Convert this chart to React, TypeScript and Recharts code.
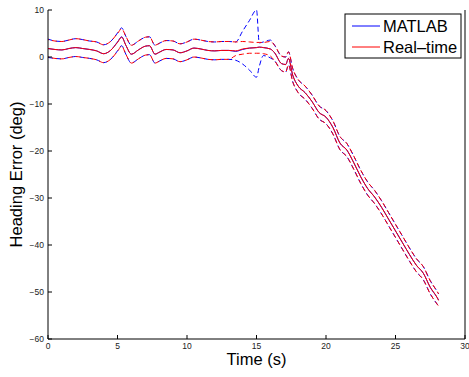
import React from 'react';
import { LineChart, Line, XAxis, YAxis } from 'recharts';

if (typeof document !== 'undefined') document.body.style.margin = '0';

const FONT = '"Liberation Sans", Arial, Helvetica, sans-serif';

const times = [
  0, 0.5, 1, 1.5, 2, 2.5, 3, 3.5, 4, 4.5,
  5, 5.3, 5.6, 6, 6.5, 7, 7.3, 7.7, 8, 8.5,
  9, 9.5, 10, 10.5, 11, 11.5, 12, 12.5, 13, 13.5,
  14, 14.5, 15, 15.2, 15.5, 16, 16.3, 16.8, 17.1, 17.3,
  17.6, 18, 18.5, 19, 19.5, 20, 20.5, 21, 21.5, 22,
  22.5, 23, 23.5, 24, 24.5, 25, 25.5, 26, 26.5, 27,
  27.5, 28, 28.1,
];

const matlabMean = [
  1.8, 1.6, 1.5, 1.8, 2.0, 1.8, 1.6, 1.3, 0.7, 1.4,
  3.2, 4.3, 2.5, 0.6, 1.5, 2.3, 2.4, 0.6, 1.0, 1.6,
  1.5, 0.9, 1.3, 1.9, 1.7, 1.4, 1.3, 1.4, 1.4, 1.2,
  1.6, 1.9, 2.0, 2.1, 2.0, 1.7, 0.9, -1.4, -1.6, -0.3,
  -3.8, -6.2, -7.6, -9.5, -11.8, -12.8, -15.0, -18.3, -19.8, -22.5,
  -25.5, -28.0, -29.8, -32.0, -34.5, -37.0, -39.5, -42.0, -44.3, -46.0,
  -49.0, -51.2, -51.7,
];

const matlabUpper = [
  3.8, 3.4, 3.3, 3.6, 3.9, 3.7, 3.4, 3.2, 2.6, 3.3,
  5.1, 6.2, 4.4, 2.5, 3.4, 4.2, 4.3, 2.5, 2.9, 3.5,
  3.4, 2.8, 3.2, 3.8, 3.6, 3.3, 3.2, 3.3, 3.3, 3.2,
  5.5, 7.8, 10.0, 3.0, 3.2, 3.6, 2.5, 0.2, 0.0, 1.1,
  -2.4, -4.8, -6.2, -8.1, -10.4, -11.4, -13.6, -16.9, -18.4, -21.1,
  -24.1, -26.6, -28.4, -30.6, -33.1, -35.6, -38.1, -40.6, -42.9, -44.6,
  -47.6, -49.9, -50.4,
];

const matlabLower = [
  -0.1, -0.3, -0.4, -0.1, 0.1, -0.1, -0.3, -0.6, -1.2, -0.5,
  1.3, 2.4, 0.6, -1.3, -0.4, 0.4, 0.5, -1.3, -0.9, -0.3,
  -0.4, -1.0, -0.6, 0.0, -0.2, -0.5, -0.6, -0.5, -0.5, -0.7,
  -1.5, -2.8, -4.3, -2.0, 0.3, -0.2, -0.8, -2.9, -3.2, -1.7,
  -5.2, -7.6, -9.0, -10.9, -13.2, -14.2, -16.4, -19.7, -21.2, -23.9,
  -26.9, -29.4, -31.2, -33.4, -35.9, -38.4, -40.9, -43.4, -45.7, -47.4,
  -50.4, -52.6, -53.0,
];

const rtMean = [
  1.8, 1.6, 1.5, 1.8, 2.0, 1.8, 1.6, 1.3, 0.7, 1.4,
  3.1, 4.2, 2.5, 0.6, 1.5, 2.3, 2.4, 0.6, 1.0, 1.6,
  1.5, 0.9, 1.3, 1.9, 1.7, 1.4, 1.3, 1.4, 1.4, 1.3,
  1.7, 1.9, 2.0, 2.1, 2.0, 1.7, 0.9, -1.4, -1.6, -0.3,
  -3.8, -6.2, -7.6, -9.5, -11.8, -12.8, -15.0, -18.3, -19.8, -22.5,
  -25.5, -28.0, -29.8, -32.0, -34.5, -37.0, -39.5, -42.0, -44.3, -46.0,
  -49.0, -51.2, -51.8,
];

const rtUpper = [
  3.7, 3.4, 3.3, 3.6, 3.9, 3.7, 3.4, 3.2, 2.6, 3.3,
  5.0, 6.0, 4.4, 2.5, 3.4, 4.2, 4.3, 2.5, 2.9, 3.5,
  3.4, 2.8, 3.2, 3.8, 3.6, 3.3, 3.2, 3.3, 3.3, 3.2,
  3.3, 3.2, 3.1, 3.1, 3.1, 3.3, 2.5, 0.2, 0.0, 1.1,
  -2.4, -4.8, -6.2, -8.1, -10.4, -11.4, -13.6, -16.9, -18.4, -21.1,
  -24.1, -26.6, -28.4, -30.6, -33.1, -35.6, -38.1, -40.6, -42.9, -44.6,
  -47.6, -49.9, -50.4,
];

const rtLower = [
  0.0, -0.3, -0.4, -0.1, 0.1, -0.1, -0.3, -0.6, -1.2, -0.5,
  1.2, 2.3, 0.6, -1.3, -0.4, 0.4, 0.5, -1.3, -0.9, -0.3,
  -0.4, -1.0, -0.6, 0.0, -0.2, -0.5, -0.6, -0.5, -0.5, 0.3,
  0.6, 0.8, 0.8, 0.8, 0.7, 0.2, -0.8, -2.9, -3.2, -1.7,
  -5.2, -7.6, -9.0, -10.9, -13.2, -14.2, -16.4, -19.7, -21.2, -23.9,
  -26.9, -29.4, -31.2, -33.4, -35.9, -38.4, -40.9, -43.4, -45.7, -47.4,
  -50.4, -52.6, -53.0,
];

const xTicks = [0, 5, 10, 15, 20, 25, 30];
const yTicks = [-60, -50, -40, -30, -20, -10, 0, 10];

const data = times.map((t, i) => ({
  t,
  mMean: matlabMean[i],
  mUp: matlabUpper[i],
  mLo: matlabLower[i],
  rMean: rtMean[i],
  rUp: rtUpper[i],
  rLo: rtLower[i],
}));

const fmt = (v: number) => (v < 0 ? '\u2212' + Math.abs(v) : String(v));

const BottomTick = ({ x, y, payload }: any) => (
  <g>
    <line x1={x} y1={y} x2={x} y2={y - 4} stroke="#000" />
    <text x={x} y={y + 9.5} textAnchor="middle" fontSize={8.5} fontFamily={FONT} fill="#222">
      {fmt(payload.value)}
    </text>
  </g>
);

const TopTick = ({ x, y }: any) => <line x1={x} y1={y} x2={x} y2={y + 4} stroke="#000" />;

const LeftTick = ({ x, y, payload }: any) => (
  <g>
    <line x1={x} y1={y} x2={x + 4} y2={y} stroke="#000" />
    <text x={x - 4} y={y} dy="0.35em" textAnchor="end" fontSize={8.5} fontFamily={FONT} fill="#222">
      {fmt(payload.value)}
    </text>
  </g>
);

const RightTick = ({ x, y }: any) => <line x1={x} y1={y} x2={x - 4} y2={y} stroke="#000" />;

const Legend = () => (
  <svg width={118} height={46} style={{ position: 'absolute', left: 344, top: 13 }}>
    <rect x={1} y={1} width={116} height={44} fill="#fff" stroke="#000" strokeWidth={1} />
    <line x1={8} y1={13} x2={36} y2={13} stroke="#0000ff" strokeWidth={1} />
    <text x={39} y={19} fontSize={16.5} fontFamily={FONT} fill="#000">MATLAB</text>
    <line x1={8} y1={34} x2={36} y2={34} stroke="#ff0000" strokeWidth={1} />
    <text x={39} y={40} fontSize={16.5} fontFamily={FONT} fill="#000">Real–time</text>
  </svg>
);

export default function App() {
  const common = {
    type: 'monotone' as const,
    dot: false,
    strokeWidth: 1,
    isAnimationActive: false,
    xAxisId: 'b',
    yAxisId: 'l',
  };
  return (
    <div style={{ position: 'relative', width: 469, height: 377, background: '#fff' }}>
      <LineChart width={469} height={377} data={data} margin={{ top: 10, right: 0, bottom: 0, left: 0 }}>
        <XAxis
          xAxisId="b"
          dataKey="t"
          type="number"
          domain={[0, 30]}
          ticks={xTicks}
          interval={0}
          height={38}
          tickSize={0}
          tickMargin={0}
          tickLine={false}
          axisLine={{ stroke: '#000' }}
          tick={<BottomTick />}
          label={{ value: 'Time (s)', position: 'center', dy: 1, fontSize: 16.5, fontFamily: FONT, fill: '#000' }}
        />
        <XAxis
          xAxisId="t"
          orientation="top"
          type="number"
          domain={[0, 30]}
          ticks={xTicks}
          interval={0}
          height={0}
          tickSize={0}
          tickMargin={0}
          tickLine={false}
          axisLine={{ stroke: '#000' }}
          tick={<TopTick />}
        />
        <YAxis
          yAxisId="l"
          type="number"
          domain={[-60, 10]}
          ticks={yTicks}
          interval={0}
          width={48}
          tickSize={0}
          tickMargin={0}
          tickLine={false}
          axisLine={{ stroke: '#000' }}
          tick={<LeftTick />}
          label={{ value: 'Heading Error (deg)', angle: -90, position: 'center', dx: -8, fontSize: 16.5, fontFamily: FONT, fill: '#000' }}
        />
        <YAxis
          yAxisId="r"
          orientation="right"
          type="number"
          domain={[-60, 10]}
          ticks={yTicks}
          interval={0}
          width={4}
          tickSize={0}
          tickMargin={0}
          tickLine={false}
          axisLine={{ stroke: '#000' }}
          tick={<RightTick />}
        />
        <Line {...common} dataKey="mUp" stroke="#0000ff" strokeDasharray="5 3" />
        <Line {...common} dataKey="mLo" stroke="#0000ff" strokeDasharray="5 3" />
        <Line {...common} dataKey="mMean" stroke="#0000ff" />
        <Line {...common} dataKey="rUp" stroke="#ff0000" strokeDasharray="5 3" strokeDashoffset={4} />
        <Line {...common} dataKey="rLo" stroke="#ff0000" strokeDasharray="5 3" strokeDashoffset={4} />
        <Line {...common} dataKey="rMean" stroke="#ff0000" />
      </LineChart>
      <Legend />
    </div>
  );
}
